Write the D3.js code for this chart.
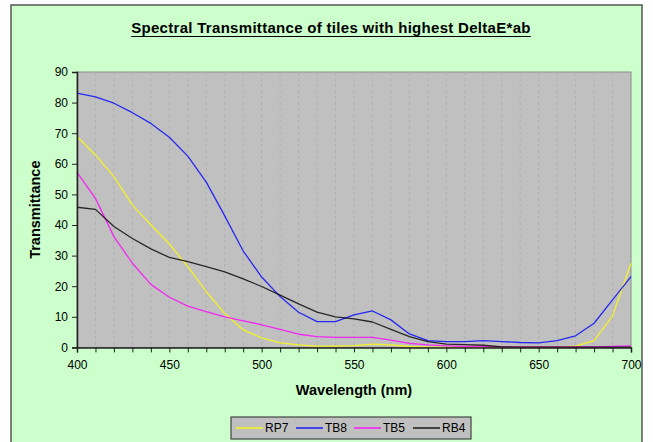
<!DOCTYPE html>
<html><head><meta charset="utf-8">
<script src="https://cdn.jsdelivr.net/npm/d3@7"></script>
<style>body{margin:0;background:#fff;}svg{display:block;}text{font-family:"Liberation Sans",Arial,sans-serif;}</style>
</head><body>
<svg id="c" width="653" height="442"></svg>
<script>
const wavelengths = d3.range(400, 701, 10);
const RP7 = [68.9,62.9,55.8,46.5,40.1,33.8,26.4,18.2,11.1,5.7,3.1,1.5,0.8,0.4,0.4,0.6,1.1,0.8,0.3,0.1,0.1,0.1,0.1,0.1,0.1,0.1,0.1,0.4,2.2,10.3,27.5];
const TB8 = [83.1,81.9,79.8,76.7,73.2,68.7,62.5,54.0,43.0,31.5,23.0,16.6,11.5,8.4,8.4,10.6,11.9,9.0,4.4,2.2,1.9,1.9,2.2,1.9,1.6,1.5,2.2,3.8,7.9,15.5,23.1];
const TB5 = [57.2,48.7,36.2,27.5,20.6,16.4,13.5,11.7,10.0,8.7,7.4,5.9,4.3,3.5,3.3,3.3,3.3,2.4,1.3,0.8,0.5,0.3,0.3,0.2,0.2,0.2,0.2,0.2,0.2,0.3,0.5];
const RB4 = [45.8,45.1,39.5,35.6,32.2,29.4,28.0,26.4,24.7,22.4,19.9,17.1,14.2,11.5,10.0,9.3,8.3,5.9,3.5,1.9,1.1,0.9,0.7,0.2,0.1,0.1,0.1,0.1,0.1,0.1,0.1];
const seriesNames = ["RP7","TB8","TB5","RB4"];
const seriesColors = ["#ffff00","#0000ff","#ff00ff","#000000"];
const seriesValues = [RP7, TB8, TB5, RB4];
const yTicks = d3.range(0, 91, 10);
const xLabelTicks = [400,450,500,550,600,650,700];
const titleText = "Spectral Transmittance of tiles with highest DeltaE*ab";
const xTitle = "Wavelength (nm)";
const yTitle = "Transmittance";

const svg = d3.select("#c");
// chart area frame
svg.append("rect").attr("x",11).attr("y",5).attr("width",631).attr("height",460)
  .attr("fill","#ccffcc").attr("stroke","#555").attr("stroke-width",1.5);

const L=77, R=631, T=72, B=347.4;
const x = d3.scaleLinear().domain([400,700]).range([L,R]);
const y = d3.scaleLinear().domain([0,90]).range([B,T]);

// plot area
svg.append("rect").attr("x",L).attr("y",T).attr("width",R-L).attr("height",B-T)
  .attr("fill","#c0c0c0").attr("stroke","#8a8a8a").attr("stroke-width",1);

// vertical dashed gridlines
svg.append("g").selectAll("line").data(wavelengths.slice(1,-1)).join("line")
  .attr("x1",d=>x(d)).attr("x2",d=>x(d)).attr("y1",T).attr("y2",B)
  .attr("stroke","#b0b0b0").attr("stroke-width",1).attr("stroke-dasharray","3,3");

// series
const line = d3.line().x((d,i)=>x(wavelengths[i])).y(d=>y(d));
seriesValues.forEach((vals,k)=>{
  svg.append("path").datum(vals).attr("d",line).attr("fill","none")
    .attr("stroke",seriesColors[k]).attr("stroke-width",1.3).attr("stroke-linejoin","round").attr("opacity",0.8);
});

// axes
const yAxis = d3.axisLeft(y).tickValues(yTicks).tickSize(5).tickPadding(4);
const gy = svg.append("g").attr("transform",`translate(${L},0)`).call(yAxis);
const xAxis = d3.axisBottom(x).tickValues(wavelengths).tickSize(5).tickPadding(8)
  .tickFormat(d=> xLabelTicks.includes(d) ? d : "");
const gx = svg.append("g").attr("transform",`translate(0,${B})`).call(xAxis);
[gx,gy].forEach(g=>{
  g.select(".domain").attr("stroke","#222").attr("stroke-width",1.5);
  g.selectAll(".tick line").attr("stroke","#222").attr("stroke-width",1);
  g.selectAll("text").attr("font-size",12).attr("fill","#000").attr("font-family","Liberation Sans, Arial, sans-serif");
});

// title
const tt = svg.append("text").attr("x",331).attr("y",33).attr("text-anchor","middle")
  .attr("font-size",15).attr("font-weight","bold").attr("letter-spacing",0.3).text(titleText);
const tw = tt.node().getComputedTextLength();
svg.append("line").attr("x1",331-tw/2).attr("x2",331+tw/2).attr("y1",36.5).attr("y2",36.5)
  .attr("stroke","#000").attr("stroke-width",1.2);

// axis titles
svg.append("text").attr("x",(L+R)/2).attr("y",395).attr("text-anchor","middle")
  .attr("font-size",14.5).attr("font-weight","bold").text(xTitle);
svg.append("text").attr("transform",`translate(40,${(T+B)/2}) rotate(-90)`).attr("text-anchor","middle")
  .attr("font-size",14.5).attr("font-weight","bold").text(yTitle);

// legend
const lg = svg.append("g");
lg.append("rect").attr("x",231).attr("y",417).attr("width",240).attr("height",22)
  .attr("fill","#c0c0c0").attr("stroke","#444").attr("stroke-width",1.2);
const legX = [236,296,354,413];
seriesNames.forEach((n,k)=>{
  lg.append("line").attr("x1",legX[k]).attr("x2",legX[k]+27).attr("y1",428).attr("y2",428)
    .attr("stroke",seriesColors[k]).attr("stroke-width",1.3);
  lg.append("text").attr("x",legX[k]+29).attr("y",432).attr("font-size",12).text(n);
});
</script>
</body></html>
